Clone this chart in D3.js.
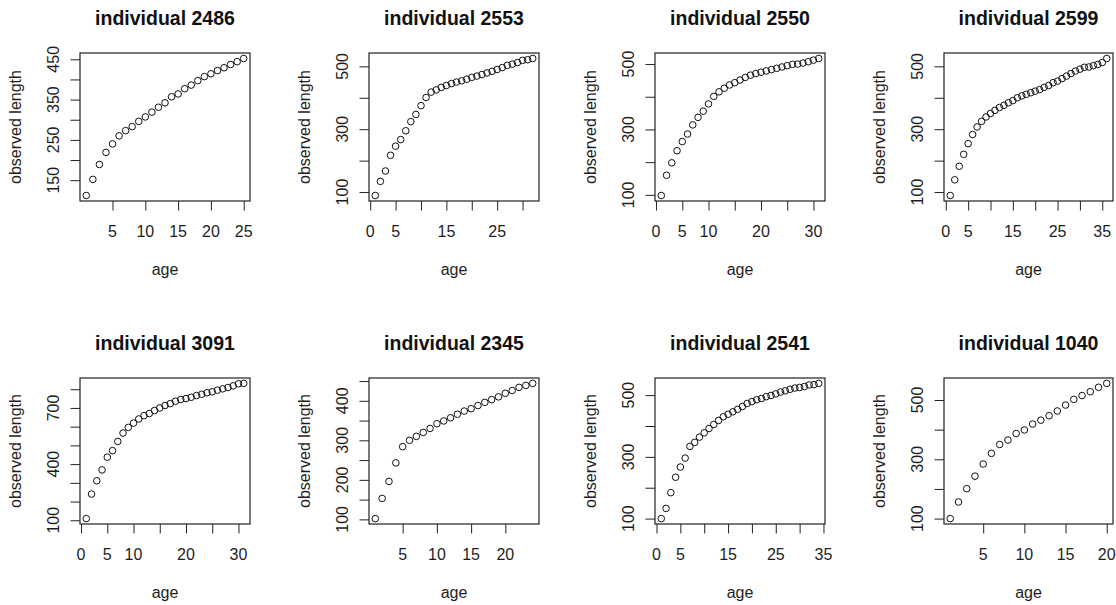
<!DOCTYPE html>
<html>
<head>
<meta charset="utf-8">
<script src="https://cdn.jsdelivr.net/npm/d3@7"></script>
<style>
  html, body { margin: 0; padding: 0; background: #fff; }
  svg { display: block; }
  text { font-family: "Liberation Sans", Arial, sans-serif; fill: #1e1e1e; }
</style>
</head>
<body>
<svg id="chart" width="1116" height="605"></svg>
<script>
// ---------------- data ----------------
const individuals = ["2486", "2553", "2550", "2599", "3091", "2345", "2541", "1040"];

const length2486 = [112, 152, 189, 219, 240, 260, 273, 283, 296, 307, 319, 331, 342, 357, 364, 377, 386, 397, 407, 414, 422, 429, 437, 444, 452];
const length2553 = [89, 134, 167, 217, 246, 267, 295, 324, 347, 375, 401, 418, 425, 433, 439, 445, 450, 454, 459, 465, 469, 474, 479, 484, 490, 496, 503, 507, 512, 519, 521, 525];
const length2550 = [98, 160, 198, 235, 263, 286, 314, 337, 356, 378, 401, 415, 426, 436, 443, 451, 459, 466, 471, 475, 479, 483, 487, 491, 495, 499, 500, 503, 507, 512, 517];
const length2599 = [89, 139, 182, 220, 254, 283, 307, 325, 339, 350, 360, 369, 376, 384, 391, 400, 406, 411, 416, 421, 426, 433, 439, 448, 453, 461, 469, 477, 485, 491, 497, 498, 502, 506, 512, 525];
const length3091 = [109, 240, 311, 369, 437, 472, 521, 566, 596, 619, 641, 659, 670, 686, 700, 713, 723, 736, 745, 750, 757, 766, 773, 781, 786, 795, 802, 809, 818, 829, 831];
const length2345 = [102, 153, 196, 243, 284, 300, 310, 320, 330, 342, 349, 357, 366, 374, 380, 388, 396, 403, 410, 419, 426, 434, 439, 444];
const length2541 = [100, 133, 184, 234, 267, 296, 334, 347, 364, 378, 392, 405, 418, 430, 438, 446, 454, 463, 473, 479, 485, 489, 495, 499, 504, 510, 514, 519, 523, 525, 528, 533, 534, 538];
const length1040 = [100, 156, 201, 243, 284, 320, 350, 365, 387, 399, 419, 432, 447, 463, 483, 502, 515, 528, 543, 556];

// axis ticks (all tick marks) and the tick labels that are printed
const xTicks2486 = [5, 10, 15, 20, 25],        xLabels2486 = [5, 10, 15, 20, 25];
const xTicks2553 = [0, 5, 10, 15, 20, 25, 30], xLabels2553 = [0, 5, 15, 25];
const xTicks2550 = [0, 5, 10, 15, 20, 25, 30], xLabels2550 = [0, 5, 10, 20, 30];
const xTicks2599 = [0, 5, 10, 15, 20, 25, 30, 35], xLabels2599 = [0, 5, 15, 25, 35];
const xTicks3091 = [0, 5, 10, 15, 20, 25, 30], xLabels3091 = [0, 5, 10, 20, 30];
const xTicks2345 = [5, 10, 15, 20],            xLabels2345 = [5, 10, 15, 20];
const xTicks2541 = [0, 5, 10, 15, 20, 25, 30, 35], xLabels2541 = [0, 5, 15, 25, 35];
const xTicks1040 = [5, 10, 15, 20],            xLabels1040 = [5, 10, 15, 20];

const yTicks2486 = [150, 200, 250, 300, 350, 400, 450], yLabels2486 = [150, 250, 350, 450];
const yTicks2553 = [100, 200, 300, 400, 500],           yLabels2553 = [100, 300, 500];
const yTicks2550 = [100, 200, 300, 400, 500],           yLabels2550 = [100, 300, 500];
const yTicks2599 = [100, 200, 300, 400, 500],           yLabels2599 = [100, 300, 500];
const yTicks3091 = [100, 200, 300, 400, 500, 600, 700, 800], yLabels3091 = [100, 400, 700];
const yTicks2345 = [100, 150, 200, 250, 300, 350, 400, 450], yLabels2345 = [100, 200, 300, 400];
const yTicks2541 = [100, 200, 300, 400, 500],           yLabels2541 = [100, 300, 500];
const yTicks1040 = [100, 200, 300, 400, 500],           yLabels1040 = [100, 300, 500];

const titlePrefix = "individual ";
const xTitle = "age";
const yTitle = "observed length";

// ---------------- build panel table ----------------
const lengths = [length2486, length2553, length2550, length2599, length3091, length2345, length2541, length1040];
const xTicks = [xTicks2486, xTicks2553, xTicks2550, xTicks2599, xTicks3091, xTicks2345, xTicks2541, xTicks1040];
const xLabels = [xLabels2486, xLabels2553, xLabels2550, xLabels2599, xLabels3091, xLabels2345, xLabels2541, xLabels1040];
const yTicks = [yTicks2486, yTicks2553, yTicks2550, yTicks2599, yTicks3091, yTicks2345, yTicks2541, yTicks1040];
const yLabels = [yLabels2486, yLabels2553, yLabels2550, yLabels2599, yLabels3091, yLabels2345, yLabels2541, yLabels1040];

// ---------------- layout ----------------
const colLeft = [80, 369, 655, 944];
const boxW = 170;
const rowTop = [53, 378];
const rowH = [148, 146];
const tickLen = 9.5;
const FS = 16;

const svg = d3.select("#chart");

individuals.forEach((id, i) => {
  const col = i % 4, row = Math.floor(i / 4);
  const L = colLeft[col], T = rowTop[row], W = (col === 3 ? 169 : boxW), H = rowH[row];
  const vals = lengths[i];
  const n = vals.length;
  const pts = vals.map((v, k) => ({ age: k + 1, len: v }));

  // R-style 4% range extension
  const xr = n - 1;
  const x = d3.scaleLinear().domain([1 - 0.04 * xr, n + 0.04 * xr]).range([L, L + W]);
  const ymin = d3.min(vals), ymax = d3.max(vals), yr = ymax - ymin;
  const y = d3.scaleLinear().domain([ymin - 0.04 * yr, ymax + 0.04 * yr]).range([T + H, T]);

  const g = svg.append("g");

  // x axis tick marks
  const xa = g.append("g").attr("transform", `translate(0,${T + H})`)
    .call(d3.axisBottom(x).tickValues(xTicks[i]).tickSize(tickLen).tickFormat(""));
  xa.select(".domain").remove();
  xa.selectAll("line").attr("stroke", "#222").attr("stroke-width", 1);

  // y axis tick marks
  const ya = g.append("g").attr("transform", `translate(${L},0)`)
    .call(d3.axisLeft(y).tickValues(yTicks[i]).tickSize(tickLen).tickFormat(""));
  ya.select(".domain").remove();
  ya.selectAll("line").attr("stroke", "#222").attr("stroke-width", 1);

  // x tick labels
  g.selectAll("text.xl").data(xLabels[i]).join("text")
    .attr("class", "xl")
    .attr("x", d => x(d)).attr("y", T + H + 36)
    .attr("text-anchor", "middle").attr("font-size", FS)
    .text(d => d);

  // y tick labels (rotated, reading upward)
  g.selectAll("text.yl").data(yLabels[i]).join("text")
    .attr("class", "yl")
    .attr("transform", d => `translate(${L - 20.7},${y(d)}) rotate(-90)`)
    .attr("text-anchor", "middle").attr("font-size", FS)
    .text(d => d);

  // box
  g.append("rect").attr("x", L).attr("y", T).attr("width", W).attr("height", H)
    .attr("fill", "none").attr("stroke", "#222").attr("stroke-width", 1.2);

  // points
  g.selectAll("circle").data(pts).join("circle")
    .attr("cx", d => x(d.age)).attr("cy", d => y(d.len)).attr("r", 3.3)
    .attr("fill", "none").attr("stroke", "#111").attr("stroke-width", 1);

  // title
  g.append("text").attr("x", L + W / 2).attr("y", T - 28.5)
    .attr("text-anchor", "middle").attr("font-size", 19.5).attr("font-weight", "bold")
    .style("fill", "#111")
    .text(titlePrefix + id);

  // axis titles
  g.append("text").attr("x", L + W / 2).attr("y", T + H + 73.5)
    .attr("text-anchor", "middle").attr("font-size", FS).text(xTitle);
  g.append("text")
    .attr("transform", `translate(${L - 59.5},${T + H / 2}) rotate(-90)`)
    .attr("text-anchor", "middle").attr("font-size", FS).text(yTitle);
});
</script>
</body>
</html>
